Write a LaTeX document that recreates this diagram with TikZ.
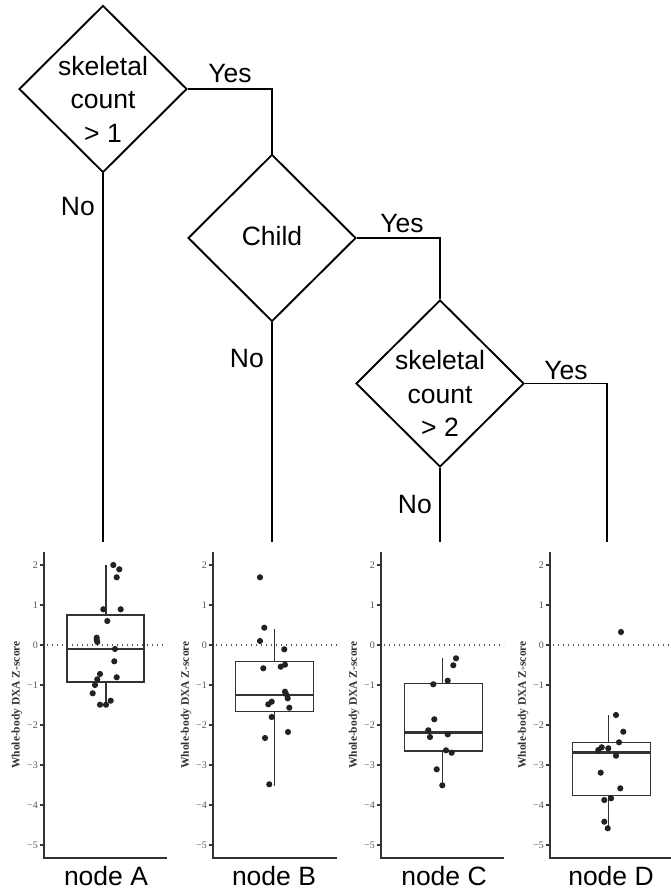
\documentclass[tikz,border=0pt]{standalone}
\usepackage{fontspec}
\setmainfont{Liberation Sans}
\newfontfamily\plotfont{Liberation Serif}
\usetikzlibrary{shapes.geometric}
\definecolor{axgray}{HTML}{333333}
\definecolor{tickgray}{HTML}{555555}
\definecolor{dotgray}{HTML}{222222}
\tikzset{
  decbox/.style={diamond, draw=black, line width=1.9pt, minimum width=168pt, minimum height=167pt, inner sep=0pt, aspect=1},
  dectext/.style={align=center, inner sep=0pt, font=\fontsize{26.5}{33.5}\selectfont},
  treeline/.style={draw=black, line width=1.9pt},
  edgelab/.style={inner sep=0pt, font=\fontsize{26.5}{32}\selectfont},
  axisline/.style={draw=axgray, line width=1.1pt},
  ticklab/.style={inner sep=0pt, text=tickgray, font=\plotfont\fontsize{10}{12}\selectfont},
  ylab/.style={inner sep=0pt, text=axgray, font=\plotfont\bfseries\fontsize{11.5}{13}\selectfont},
  zeroline/.style={draw=tickgray, line width=1.2pt, dash pattern=on 1.2pt off 3.8pt},
  boxline/.style={draw=axgray, line width=1.3pt},
  medline/.style={draw=axgray, line width=2.6pt},
  pt/.style={fill=dotgray},
}
\newcommand{\zaxis}[3]{%
  \draw[axisline] (#2,552) -- (#2,858) -- (#3,858);
  \foreach \v/\t [count=\k] in {2/2,1/1,0/0,-1/−1,-2/−2,-3/−3,-4/−4,-5/−5}{%
    \draw[axisline] ({#2-4},{645-40*(\v)}) -- (#2,{645-40*(\v)});
    \node[ticklab, anchor=east] (#1t\k) at ({#2-6},{645-40*(\v)}) {\t};
  }
  \node[ylab, rotate=90] (#1yl) at ({#2-27},705) {Whole-body DXA Z-score};
  \draw[zeroline] ({#2+3},645) -- (#3,645);
}
\newcommand{\zbox}[8]{%
  \draw[boxline] (#6,#7) -- (#6,#3);
  \draw[boxline] (#6,#4) -- (#6,#8);
  \draw[boxline] (#1,#3) rectangle (#2,#4);
  \draw[medline] (#1,#5) -- (#2,#5);
}
\begin{document}
\begin{tikzpicture}[x=1pt,y=-1pt]
\useasboundingbox (0,0) rectangle (671,894);

% decision diamonds
\node[decbox] (d1) at (103,89) {};
\node[dectext] (d1t) at (103,99) {skeletal\\count\\> 1};
\node[decbox] (d2) at (272,238) {};
\node[dectext] (d2t) at (272,236) {Child};
\node[decbox] (d3) at (440,383.5) {};
\node[dectext] (d3t) at (440,393.5) {skeletal\\count\\> 2};

\coordinate (endA) at (103,542);
\coordinate (endB) at (272,542);
\coordinate (endC) at (440,542);
\coordinate (endD) at (607,542);

\draw[treeline] (d1.east) -| (d2.north);
\draw[treeline] (d2.east) -| (d3.north);
\draw[treeline] (d3.east) -| (endD);
\draw[treeline] (d1.south) -- (endA);
\draw[treeline] (d2.south) -- (endB);
\draw[treeline] (d3.south) -- (endC);

\node[edgelab, anchor=base] (y1) at (230,82) {Yes};
\node[edgelab, anchor=base] (y2) at (402,232) {Yes};
\node[edgelab, anchor=base] (y3) at (566,379) {Yes};
\node[edgelab, anchor=base east] (n1) at (95,215) {No};
\node[edgelab, anchor=base east] (n2) at (264,367) {No};
\node[edgelab, anchor=base east] (n3) at (432,513) {No};

% panels
\zaxis{pA}{44}{167}
\zaxis{pB}{213}{337}
\zaxis{pC}{381}{504}
\zaxis{pD}{550}{671}

\zbox{67}{144}{615}{682}{649}{106}{565}{704}
\zbox{235.7}{313.3}{661.7}{711.7}{695}{274.3}{629.3}{786}
\zbox{404.3}{482.3}{683.3}{751}{732.3}{442.7}{658.3}{785}
\zbox{572.7}{650.7}{742.7}{795.7}{752.7}{608.3}{715}{828.3}

\foreach \px/\py in {113.3/565,119.3/569.3,116.7/577.3,103.3/609.3,120.7/609.3,107.3/621,96.7/637.7,96.7/640,97.3/642,115/649,114.3/661.3,116.7/677.3,100/674,97.3/679.3,95/685,92.7/693.3,100/704.7,106/704.7,110.7/700.7}
  \fill[pt] (\px,\py) circle (3.1pt);
\foreach \px/\py in {260/577.3,264.3/627.7,260/641,284.3/649.3,263.3/668.3,280.7/666.7,285/664.7,285/691.7,286/694,287.7/698.3,289.3/707.7,271.7/701.7,268.3/704.3,271.7/717,288/732,265/738,269.3/784.3}
  \fill[pt] (\px,\py) circle (3.1pt);
\foreach \px/\py in {456/658.3,453.3/665.3,447.7/680.7,433.3/684.3,434.3/719.3,428.3/730.3,430/737,447.7/734.3,446/750.3,451.7/752.7,436.7/769.3,442.3/785.3}
  \fill[pt] (\px,\py) circle (3.1pt);
\foreach \px/\py in {621/632,616/715,623.3/731.7,619/742.3,601.7/747.3,598.3/750,608.3/748.3,616/755.7,600.7/772.7,620.3/788.3,604.3/800,611/798.3,604.3/821.7,607.7/828.3}
  \fill[pt] (\px,\py) circle (3.1pt);

\node[edgelab, anchor=base] (lA) at (106,885) {node A};
\node[edgelab, anchor=base] (lB) at (274,885) {node B};
\node[edgelab, anchor=base] (lC) at (444,885) {node C};
\node[edgelab, anchor=base] (lD) at (611,885) {node D};
\end{tikzpicture}
\end{document}
